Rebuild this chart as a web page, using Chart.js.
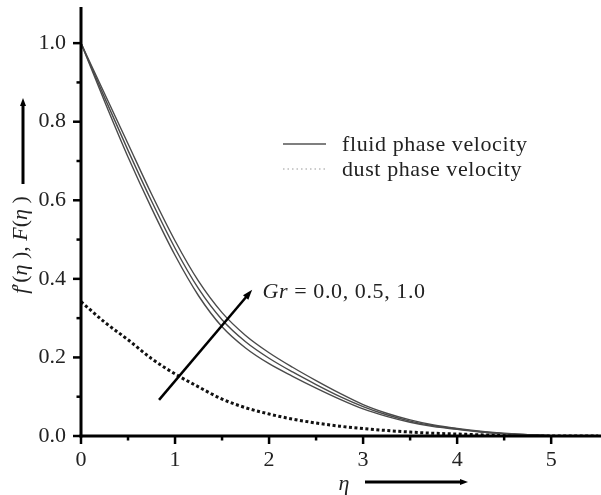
<!DOCTYPE html>
<html><head><meta charset="utf-8">
<script src="https://cdn.jsdelivr.net/npm/chart.js@4/dist/chart.umd.min.js"></script>
<style>html,body{margin:0;padding:0;background:#fff;}#wrap{width:601px;height:495px;position:relative;}</style>
</head><body><div id="wrap"><canvas id="c"></canvas></div>
<script>
const eta = [0,0.25,0.5,0.75,1,1.25,1.5,1.75,2,2.25,2.5,2.75,3,3.25,3.5,3.75,4,4.25,4.5,4.75,5,5.25,5.5];
const fluidGr00 = [1.0,0.852,0.710,0.580,0.460,0.357,0.278,0.224,0.184,0.152,0.122,0.094,0.069,0.050,0.035,0.024,0.017,0.010,0.006,0.003,0.001,0,0];
const fluidGr05 = [1.0,0.862,0.727,0.598,0.478,0.375,0.296,0.240,0.198,0.163,0.131,0.101,0.075,0.054,0.038,0.026,0.018,0.011,0.006,0.003,0.001,0,0];
const fluidGr10 = [1.0,0.872,0.744,0.616,0.497,0.394,0.314,0.256,0.212,0.175,0.141,0.109,0.080,0.058,0.041,0.028,0.019,0.012,0.007,0.003,0.001,0,0];
const dustVelocity = [0.342,0.290,0.245,0.197,0.158,0.125,0.094,0.072,0.056,0.043,0.033,0.025,0.019,0.014,0.010,0.007,0.005,0.003,0.002,0.001,0,0,0];
const xMajorTicks = [0,1,2,3,4,5];
const xMinorTicks = [0.5,1.5,2.5,3.5,4.5];
const yMajorTicks = [0.0,0.2,0.4,0.6,0.8,1.0];
const yMinorTicks = [0.1,0.3,0.5,0.7,0.9];
const legendLabels = ['fluid phase velocity','dust phase velocity'];
const grValues = ['0.0','0.5','1.0'];

const SERIF = '"Liberation Serif", "Times New Roman", serif';
const FS = 22;
const pts = arr => eta.map((x,i)=>({x:x,y:arr[i]}));

function richWidth(ctx, segs){
  let w=0; segs.forEach(s=>{ctx.font=(s.i?'italic ':'')+FS+'px '+SERIF; w+=ctx.measureText(s.t).width;}); return w;
}
function drawRich(ctx, segs, x, y){
  let cx=x; ctx.textBaseline='middle'; ctx.textAlign='left';
  segs.forEach(s=>{ctx.font=(s.i?'italic ':'')+FS+'px '+SERIF; ctx.fillText(s.t,cx,y); cx+=ctx.measureText(s.t).width;});
}
function arrowHead(ctx, x1,y1,x2,y2,len,wid){
  const a=Math.atan2(y2-y1,x2-x1);
  ctx.beginPath();
  ctx.moveTo(x2,y2);
  ctx.lineTo(x2-len*Math.cos(a)+wid*Math.sin(a), y2-len*Math.sin(a)-wid*Math.cos(a));
  ctx.lineTo(x2-len*Math.cos(a)-wid*Math.sin(a), y2-len*Math.sin(a)+wid*Math.cos(a));
  ctx.closePath(); ctx.fill();
}

const decor = {
  id:'decor',
  afterDraw(chart){
    const ctx=chart.ctx, xs=chart.scales.x, ys=chart.scales.y, ca=chart.chartArea;
    const x0=xs.getPixelForValue(0), y0=ys.getPixelForValue(0);
    ctx.save();
    ctx.strokeStyle='#000'; ctx.fillStyle='#000'; ctx.lineCap='butt';
    ctx.lineWidth=3;
    ctx.beginPath(); ctx.moveTo(x0, ca.top); ctx.lineTo(x0, y0+1.5); ctx.stroke();
    ctx.beginPath(); ctx.moveTo(x0-1.5, y0); ctx.lineTo(ca.right, y0); ctx.stroke();
    ctx.lineWidth=2.5;
    xMajorTicks.forEach(v=>{const p=xs.getPixelForValue(v); ctx.beginPath(); ctx.moveTo(p,y0); ctx.lineTo(p,y0+8); ctx.stroke();});
    xMinorTicks.forEach(v=>{const p=xs.getPixelForValue(v); ctx.beginPath(); ctx.moveTo(p,y0); ctx.lineTo(p,y0+4.5); ctx.stroke();});
    yMajorTicks.forEach(v=>{const p=ys.getPixelForValue(v); ctx.beginPath(); ctx.moveTo(x0,p); ctx.lineTo(x0-8,p); ctx.stroke();});
    yMinorTicks.forEach(v=>{const p=ys.getPixelForValue(v); ctx.beginPath(); ctx.moveTo(x0,p); ctx.lineTo(x0-4.5,p); ctx.stroke();});
    ctx.fillStyle='#222';
    ctx.save();
    ctx.translate(21, 245); ctx.rotate(-Math.PI/2);
    const ySegs=[{t:'f',i:true},{t:'\u2032(',i:false},{t:'\u03B7',i:true},{t:' ), ',i:false},{t:'F',i:true},{t:'(',i:false},{t:'\u03B7',i:true},{t:' )',i:false}];
    const yw=richWidth(ctx,ySegs);
    drawRich(ctx,ySegs,-yw/2,0);
    ctx.restore();
    ctx.strokeStyle='#000'; ctx.fillStyle='#000'; ctx.lineWidth=3;
    ctx.beginPath(); ctx.moveTo(23,184); ctx.lineTo(23,104); ctx.stroke();
    arrowHead(ctx,23,184,23,98,8,3);
    ctx.fillStyle='#222';
    ctx.font='italic '+FS+'px '+SERIF; ctx.textAlign='center'; ctx.textBaseline='middle';
    ctx.fillText('\u03B7',344,484);
    ctx.fillStyle='#000'; ctx.lineWidth=3;
    ctx.beginPath(); ctx.moveTo(365,482); ctx.lineTo(462,482); ctx.stroke();
    arrowHead(ctx,365,482,468,482,8,3);
    const ax1=xs.getPixelForValue(0.83), ay1=ys.getPixelForValue(0.092);
    const ax2=xs.getPixelForValue(1.82), ay2=ys.getPixelForValue(0.372);
    ctx.lineWidth=2.5;
    const ang=Math.atan2(ay2-ay1,ax2-ax1);
    ctx.beginPath(); ctx.moveTo(ax1,ay1); ctx.lineTo(ax2-6*Math.cos(ang),ay2-6*Math.sin(ang)); ctx.stroke();
    arrowHead(ctx,ax1,ay1,ax2,ay2,10,3.5);
    ctx.fillStyle='#222';
    try { ctx.letterSpacing='0.6px'; } catch(e) {}
    const gx=xs.getPixelForValue(1.93), gy=ys.getPixelForValue(0.367);
    drawRich(ctx,[{t:'Gr',i:true},{t:' = '+grValues.join(', '),i:false}],gx,gy);
    ctx.strokeStyle='#555'; ctx.lineWidth=1.4;
    ctx.beginPath(); ctx.moveTo(283,144); ctx.lineTo(326,144); ctx.stroke();
    ctx.strokeStyle='#999'; ctx.lineWidth=1.2; ctx.setLineDash([1.5,3]);
    ctx.beginPath(); ctx.moveTo(283,169); ctx.lineTo(326,169); ctx.stroke();
    ctx.setLineDash([]);
    ctx.fillStyle='#222'; ctx.font=FS+'px '+SERIF; ctx.textAlign='left'; ctx.textBaseline='middle';
    ctx.fillText(legendLabels[0],342,145);
    ctx.fillText(legendLabels[1],342,170);
    try { ctx.letterSpacing='0px'; } catch(e) {}
    ctx.restore();
  }
};

const fluidStyle = {borderColor:'#4a4a4a', borderWidth:1.4, pointRadius:0, fill:false, cubicInterpolationMode:'monotone'};
new Chart(document.getElementById('c'), {
  type:'line',
  data:{datasets:[
    Object.assign({label:'Gr=0.0 fluid', data:pts(fluidGr00)}, fluidStyle),
    Object.assign({label:'Gr=0.5 fluid', data:pts(fluidGr05)}, fluidStyle),
    Object.assign({label:'Gr=1.0 fluid', data:pts(fluidGr10)}, fluidStyle),
    {label:'dust', data:pts(dustVelocity), borderColor:'#111', borderWidth:3, borderDash:[3,2.5], pointRadius:0, fill:false, cubicInterpolationMode:'monotone'}
  ]},
  options:{
    responsive:true, maintainAspectRatio:false, animation:false, devicePixelRatio:1,
    layout:{padding:{left:0,right:0,top:7,bottom:0}},
    plugins:{legend:{display:false}, tooltip:{enabled:false}},
    scales:{
      x:{type:'linear', min:0, max:5.53,
        afterBuildTicks:s=>{s.ticks=xMajorTicks.map(v=>({value:v}));},
        afterFit:s=>{s.height=59; s.paddingLeft=0; s.paddingRight=0;},
        grid:{display:false}, border:{display:false},
        ticks:{color:'#222', font:{family:SERIF,size:FS}, padding:3, maxRotation:0, autoSkip:false, callback:v=>String(v)}},
      y:{type:'linear', min:0, max:1.092,
        afterBuildTicks:s=>{s.ticks=yMajorTicks.map(v=>({value:v}));},
        afterFit:s=>{s.width=81; s.paddingTop=0; s.paddingBottom=0;},
        grid:{display:false}, border:{display:false},
        ticks:{color:'#222', font:{family:SERIF,size:FS}, padding:7, autoSkip:false, callback:v=>Number(v).toFixed(1)}}
    }
  },
  plugins:[decor]
});
</script></body></html>
